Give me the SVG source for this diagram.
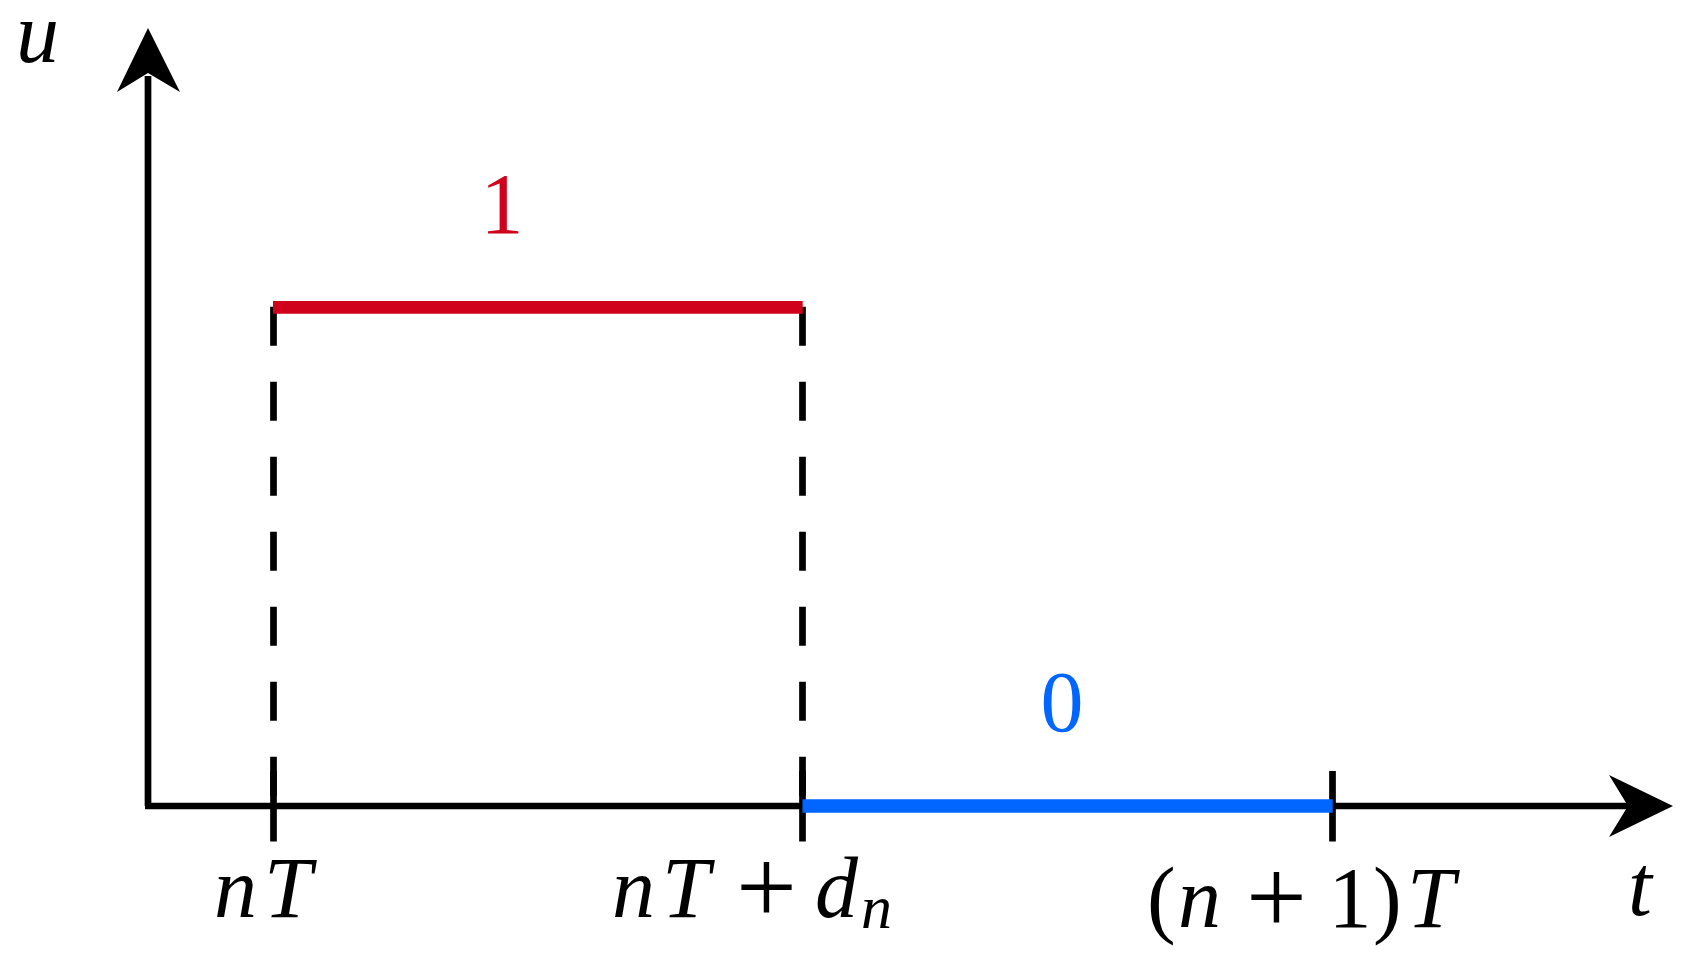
<svg xmlns="http://www.w3.org/2000/svg" width="1690" height="963" viewBox="0 0 1690 963">
<style>
.ax{stroke:#000;stroke-width:6.7;fill:none}
.dash{stroke:#000;stroke-width:6.7;fill:none;stroke-dasharray:39 36}
.tick{stroke:#000;stroke-width:6.7}
.mi{font-family:"Liberation Serif",serif;font-style:italic;font-size:86px;fill:#000}
.mr{font-family:"Liberation Serif",serif;font-size:86px;fill:#000}
.pl{font-family:"Liberation Serif",serif;font-size:108px;fill:#000}
</style>
<rect width="1690" height="963" fill="#fff"/>
<g id="connectors">
<line class="ax" x1="148" y1="806" x2="148" y2="76"/>
<line class="ax" x1="145" y1="806" x2="1630" y2="806"/>
<path d="M148,28 L180,92 L148,73 L117,92 Z" fill="#000"/>
<path d="M1673,806 L1609,837 L1628,806 L1609,775 Z" fill="#000"/>
<line class="dash" x1="273.5" y1="306.7" x2="273.5" y2="806"/>
<line class="dash" x1="802.5" y1="306.7" x2="802.5" y2="806"/>
<line class="tick" x1="273.5" y1="771" x2="273.5" y2="841.5"/>
<line class="tick" x1="802.5" y1="771" x2="802.5" y2="841.5"/>
<line class="tick" x1="1332.5" y1="771" x2="1332.5" y2="841.5"/>
<line x1="273" y1="307.3" x2="802.7" y2="307.3" stroke="#d0011b" stroke-width="12.7"/>
<line x1="802.5" y1="806" x2="1332.7" y2="806" stroke="#0066ff" stroke-width="13.5"/>
</g>
<g id="label-u"><text class="mi" x="16" y="61.7">u</text></g>
<g id="label-t"><text class="mi" x="1628" y="915">t</text></g>
<g id="label-1"><text class="mr" x="502" y="233.3" text-anchor="middle" style="fill:#d0011b">1</text></g>
<g id="label-0"><text class="mr" x="1062" y="731" text-anchor="middle" style="fill:#0066ff">0</text></g>
<g id="label-nT">
<text class="mi" x="214" y="916.7">n</text>
<text class="mi" x="264" y="916.7">T</text>
</g>
<g id="label-nTdn">
<text class="mi" x="612" y="916.7">n</text>
<text class="mi" x="662" y="916.7">T</text>
<text class="pl" x="766.5" y="923" text-anchor="middle">+</text>
<text class="mi" x="815" y="916.7">d</text>
<text class="mi" x="861" y="928" style="font-size:62px">n</text>
</g>
<g id="label-n1T">
<text class="mr" x="1147" y="926.7">(</text>
<text class="mi" x="1178" y="926.7">n</text>
<text class="pl" x="1276.5" y="933" text-anchor="middle">+</text>
<text class="mr" x="1350" y="926.7" text-anchor="middle">1</text>
<text class="mr" x="1373" y="926.7">)</text>
<text class="mi" x="1407" y="926.7">T</text>
</g>
</svg>
